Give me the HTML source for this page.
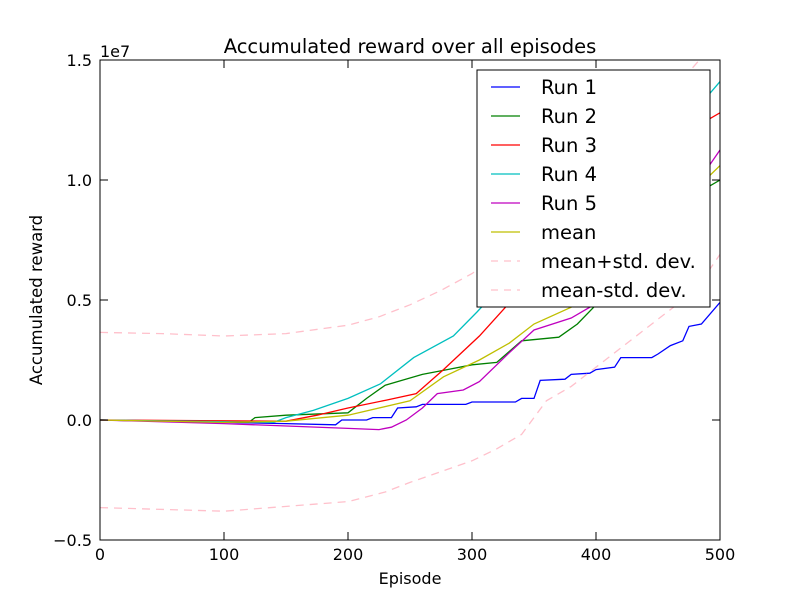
<!DOCTYPE html>
<html><head><meta charset="utf-8"><style>
body{margin:0;background:#fff;}
svg text{font-family:"DejaVu Sans","Liberation Sans",sans-serif;}
</style></head><body>
<svg id="c" width="800" height="600" viewBox="0 0 800 600">
<rect width="800" height="600" fill="#fff"/>
<text x="410" y="53" font-size="19.5" text-anchor="middle">Accumulated reward over all episodes</text>
<text x="100" y="57" font-size="16">1e7</text>
<text x="410" y="584" font-size="16" text-anchor="middle">Episode</text>
<text transform="translate(42,300) rotate(-90)" font-size="16.5" text-anchor="middle">Accumulated reward</text>
<defs><clipPath id="pc"><rect x="100" y="60" width="620" height="480"/></clipPath></defs>
<g id="series" clip-path="url(#pc)"></g>
<g id="axes"></g>
<g id="legend"></g>
</svg>
<script>
const xTicks=[0,100,200,300,400,500];
const yTicks=[-5,0,5,10,15];
const yTickLabels=["\u22120.5","0.0","0.5","1.0","1.5"];
const run1=[[0,0],[100,-0.1],[150,-0.15],[190,-0.2],[195,0],[215,0],[220,0.1],[235,0.1],[240,0.5],[255,0.55],[260,0.65],[295,0.65],[300,0.75],[335,0.75],[340,0.9],[350,0.9],[355,1.65],[375,1.7],[380,1.9],[395,1.95],[400,2.1],[415,2.2],[420,2.6],[445,2.6],[450,2.75],[460,3.1],[470,3.3],[475,3.9],[485,4.0],[500,4.9]];
const run2=[[0,0],[120,-0.1],[125,0.1],[150,0.2],[200,0.3],[215,0.9],[230,1.45],[260,1.9],[280,2.1],[300,2.3],[320,2.4],[340,3.3],[370,3.45],[385,4.0],[400,4.8],[430,6.5],[460,8.2],[480,9.4],[500,10.0]];
const run3=[[0,0],[150,-0.05],[175,0.2],[200,0.5],[231,0.83],[255,1.1],[277,2.1],[306,3.5],[327,4.7],[360,6.5],[400,8.5],[440,10.5],[480,12.2],[500,12.8]];
const run4=[[0,0],[140,-0.1],[150,0.1],[172,0.4],[200,0.9],[226,1.5],[253,2.6],[285,3.5],[304,4.5],[340,6.5],[380,8.5],[420,10.5],[460,12.3],[490,13.5],[500,14.1]];
const run5=[[0,0],[100,-0.15],[200,-0.35],[225,-0.4],[235,-0.3],[247,0],[260,0.5],[272,1.1],[293,1.25],[306,1.6],[330,2.8],[350,3.75],[380,4.25],[395,4.7],[430,6.8],[470,9.0],[500,11.25]];
const meanS=[[0,0],[100,-0.1],[150,-0.05],[200,0.2],[250,0.8],[277,1.8],[306,2.5],[330,3.2],[350,4.0],[380,4.7],[420,6.6],[460,8.6],[500,10.6]];
const meanPlus=[[0,3.65],[50,3.6],[100,3.5],[150,3.6],[200,3.95],[225,4.3],[250,4.8],[275,5.4],[300,6.1],[350,8],[400,10.5],[450,13],[500,16]];
const meanMinus=[[0,-3.65],[100,-3.8],[200,-3.4],[230,-3.0],[250,-2.6],[300,-1.7],[320,-1.2],[340,-0.6],[360,0.8],[380,1.4],[400,2.2],[420,3.0],[440,3.8],[460,4.6],[480,5.4],[500,6.9]];
const seriesList=[
 {name:"Run 1",d:run1,c:"#0000ff",dash:null},
 {name:"Run 2",d:run2,c:"#008000",dash:null},
 {name:"Run 3",d:run3,c:"#ff0000",dash:null},
 {name:"Run 4",d:run4,c:"#00bfbf",dash:null},
 {name:"Run 5",d:run5,c:"#bf00bf",dash:null},
 {name:"mean",d:meanS,c:"#bfbf00",dash:null},
 {name:"mean+std. dev.",d:meanPlus,c:"#ffc0cb",dash:"8,6"},
 {name:"mean-std. dev.",d:meanMinus,c:"#ffc0cb",dash:"8,6"}];
const NS="http://www.w3.org/2000/svg";
const X=v=>100+v*620/500;
const Y=v=>420-v*24;
function mk(t,a,p){const e=document.createElementNS(NS,t);for(const k in a)e.setAttribute(k,a[k]);p.appendChild(e);return e;}
const sg=document.getElementById('series');
seriesList.forEach(s=>{
 const p=mk('path',{d:s.d.map((q,i)=>(i?'L':'M')+X(q[0]).toFixed(1)+','+Y(q[1]).toFixed(1)).join(''),fill:'none',stroke:s.c,'stroke-width':1.3},sg);
 if(s.dash)p.setAttribute('stroke-dasharray',s.dash);
 
 
});
const ax=document.getElementById('axes');
const fr=mk('rect',{x:100,y:60,width:620,height:480,fill:'none',stroke:'#000','stroke-width':1},ax);


xTicks.forEach(v=>{
 mk('line',{x1:X(v),x2:X(v),y1:540,y2:532,stroke:'#000'},ax);
 mk('line',{x1:X(v),x2:X(v),y1:60,y2:68,stroke:'#000'},ax);
 const t=mk('text',{x:X(v),y:560,'font-size':16,'text-anchor':'middle'},ax);t.textContent=v;
 
 
});
yTicks.forEach((v,i)=>{
 mk('line',{x1:100,x2:108,y1:Y(v),y2:Y(v),stroke:'#000'},ax);
 mk('line',{x1:712,x2:720,y1:Y(v),y2:Y(v),stroke:'#000'},ax);
 const t=mk('text',{x:92,y:Y(v)+6,'font-size':16,'text-anchor':'end'},ax);t.textContent=yTickLabels[i];
 
 
});
const lg=document.getElementById('legend');


mk('rect',{x:477,y:70,width:233,height:237,fill:'#fff',stroke:'#000','stroke-width':1},lg);
seriesList.forEach((s,i)=>{
 const y=87+i*29;
 const l=mk('line',{x1:491,x2:520,y1:y,y2:y,stroke:s.c,'stroke-width':1.3},lg);
 if(s.dash)l.setAttribute('stroke-dasharray','7,6');
 const t=mk('text',{x:541,y:y+7,'font-size':19.5},lg);t.textContent=s.name;
 
 
});
</script>
</body></html>
